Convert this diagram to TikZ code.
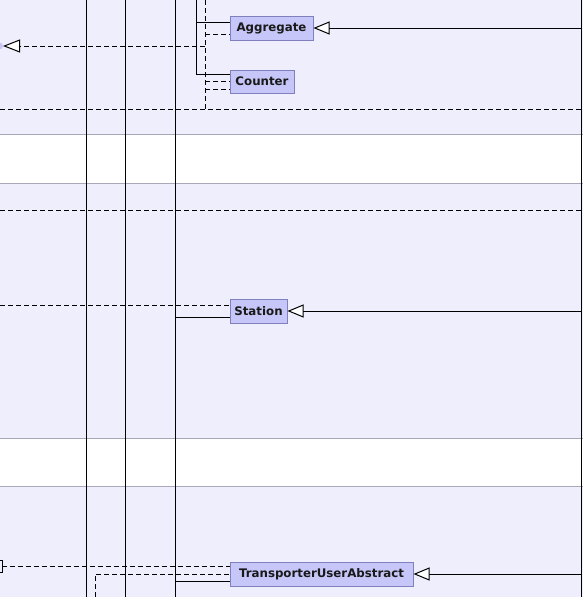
\documentclass[tikz,border=0pt]{standalone}
\usepackage{fontspec}
\setmainfont{DejaVu Sans}
\usetikzlibrary{arrows.meta}
\definecolor{panel}{RGB}{238,238,252}
\definecolor{sepline}{RGB}{168,168,184}
\definecolor{boxfill}{RGB}{198,198,248}
\definecolor{boxdraw}{RGB}{128,128,190}
\tikzset{
  cls/.style={draw=boxdraw, fill=boxfill, line width=1pt, inner sep=0pt, minimum height=24pt,
    font=\fontsize{11.8}{14}\selectfont\bfseries, text=black!90},
  ln/.style={line width=1pt, black},
  dln/.style={line width=1pt, black, dash pattern=on 5pt off 3pt},
  inh/.style={ln, -{Triangle[length=16pt, width=13pt, fill=white, line width=1pt]}},
  sep/.style={line width=1pt, draw=sepline}
}
\begin{document}
\begin{tikzpicture}[x=1pt,y=-1pt]
\useasboundingbox (0,0) rectangle (583,597);
% panels
\fill[panel] (0,0) rectangle (583,597);
\fill[white] (0,134) rectangle (583,183);
\fill[white] (0,438) rectangle (583,486);
\draw[sep] (0,134) -- (583,134);
\draw[sep] (0,183) -- (583,183);
\draw[sep] (0,438) -- (583,438);
\draw[sep] (0,486) -- (583,486);

% coordinates
\coordinate (v1t) at (86,0);   \coordinate (v1b) at (86,597);
\coordinate (v2t) at (125,0);  \coordinate (v2b) at (125,597);
\coordinate (v3t) at (175,0);  \coordinate (v3b) at (175,597);
\coordinate (vrt) at (581,0);  \coordinate (vrb) at (581,597);
\coordinate (s1t) at (196,0);  \coordinate (s1b) at (196,74);
\coordinate (d1t) at (205,0);  \coordinate (d1b) at (205,109);
\coordinate (h1l) at (0,109);  \coordinate (h1r) at (583,109);
\coordinate (h2l) at (0,210);  \coordinate (h2r) at (583,210);

% nodes
\node[cls, minimum width=83pt] (agg) at (271.5,28) {Aggregate};
\node[cls, minimum width=64pt, minimum height=23pt] (cnt) at (262,81.5) {Counter};
\node[cls, minimum width=57pt] (sta) at (258.5,311) {Station};
\node[cls, minimum width=183pt] (tua) at (321.5,574) {TransporterUserAbstract};

% vertical lines
\draw[ln] (v1t) -- (v1b);
\draw[ln] (v2t) -- (v2b);
\draw[ln] (v3t) -- (v3b);
\draw[ln] (vrt) -- (vrb);

% dashed horizontals
\draw[dln] (h1l) -- (h1r);
\draw[dln] (h2l) -- (h2r);

% Aggregate / Counter connectors
\draw[ln] (s1t) -- (s1b);
\draw[ln] (s1t |- 0,22) -- (agg.west |- 0,22);
\draw[ln] (s1b) -- (cnt.west |- s1b);
\draw[dln] (d1t) -- (d1b);
\draw[dln] (d1t |- 0,34) -- (agg.west |- 0,34);
\draw[dln] (d1t |- 0,81) -- (cnt.west |- 0,81);
\draw[dln] (d1t |- 0,89) -- (cnt.west |- 0,89);
\coordinate (lft) at (3,46);
\fill[boxfill] (lft) ++(-3.5,0) circle (3.5pt);
\draw[dln, -{Triangle[length=17pt, width=13pt, fill=white, line width=1pt, sep=0pt]}] (d1t |- 0,46) -- (lft);

% inheritance arrows from right
\draw[inh] (vrt |- agg.east) -- (agg.east);
\draw[inh] (vrt |- sta.east) -- (sta.east);
\draw[inh] (vrt |- tua.east) -- (tua.east);

% Station connectors
\draw[dln] (0,305) -- (sta.west |- 0,305);
\draw[ln] (v3t |- 0,317) -- (sta.west |- 0,317);

% TransporterUserAbstract connectors
\coordinate (brk) at (2,566);
\draw[line width=1pt] (-3,560) -- (2,560) -- (2,572) -- (-3,572);
\draw[dln] (brk) -- (tua.west |- brk);
\coordinate (d2b) at (95,597);
\draw[dln] (d2b) |- (tua.west |- 0,574);
\draw[ln] (v3t |- 0,581) -- (tua.west |- 0,581);
\end{tikzpicture}
\end{document}
